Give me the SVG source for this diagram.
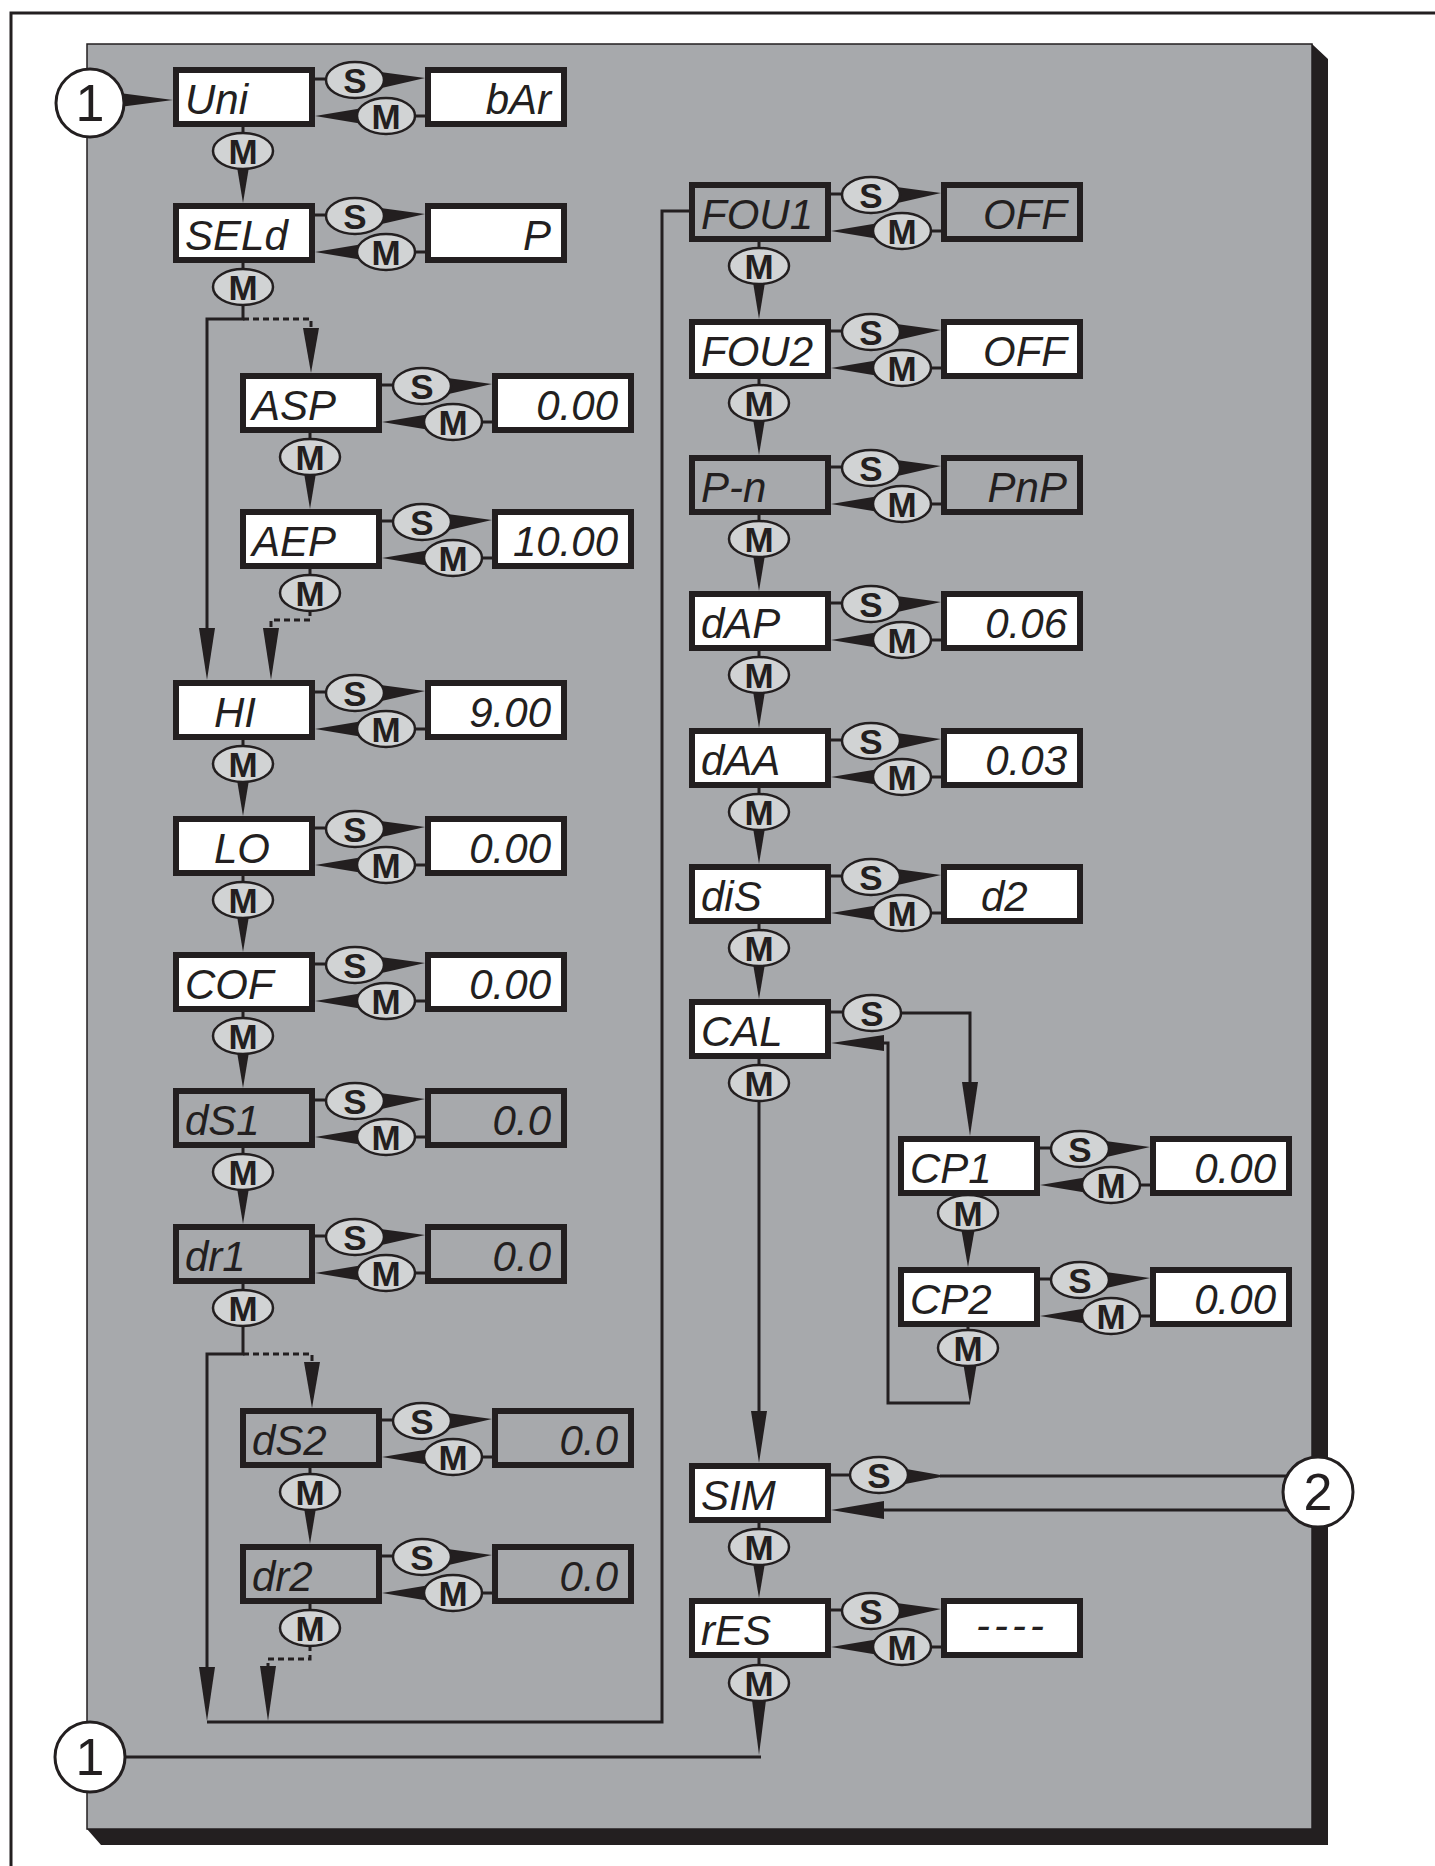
<svg xmlns="http://www.w3.org/2000/svg" width="1435" height="1866" viewBox="0 0 1435 1866">
<style>
.ln{stroke:#231f20;stroke-width:3;fill:none}
.dt{stroke:#231f20;stroke-width:3;fill:none;stroke-dasharray:6 4}
.wd{fill:#231f20}
.bt{fill:#d1d3d4;stroke:#231f20;stroke-width:2.5}
.bl{font-family:"Liberation Sans",Arial,sans-serif;font-weight:bold;font-size:35px;text-anchor:middle;fill:#231f20}
.bx{fill:#fff;stroke:#231f20;stroke-width:6}
.bg{fill:#a7a9ac;stroke:#231f20;stroke-width:6}
.sg{font-family:"Liberation Sans",Arial,sans-serif;font-style:italic;font-size:42px;fill:#231f20}
.sv{font-family:"Liberation Sans",Arial,sans-serif;font-style:italic;font-size:42px;fill:#231f20;text-anchor:end}
.ci{fill:#fff;stroke:#231f20;stroke-width:3}
.cn{font-family:"Liberation Sans",Arial,sans-serif;font-size:52px;text-anchor:middle;fill:#231f20}
</style>
<rect width="1435" height="1866" fill="#fff"/>
<!-- frame -->
<path d="M11 1866V13H1435" fill="none" stroke="#231f20" stroke-width="3"/>
<!-- panel -->
<polygon points="1312,44 1328,59 1328,1845 101,1845 87,1829 1312,1829" fill="#231f20"/>
<rect x="87" y="44" width="1225" height="1785" fill="#a7a9ac" stroke="#231f20" stroke-width="1.5"/>

<g id="connectors">
<!-- row S/M pairs -->
<g transform="translate(173,67)"><path class="ln" d="M142 12H154M243 49H252"/><polygon class="wd" points="200,4 252,11 200,23"/><polygon class="wd" points="142,49 196,40 196,58"/><ellipse class="bt" cx="182" cy="13" rx="29" ry="18"/><text class="bl" x="182" y="25.5">S</text><ellipse class="bt" cx="213" cy="49" rx="29" ry="18"/><text class="bl" x="213" y="61.5">M</text></g>
<g transform="translate(173,203)"><path class="ln" d="M142 12H154M243 49H252"/><polygon class="wd" points="200,4 252,11 200,23"/><polygon class="wd" points="142,49 196,40 196,58"/><ellipse class="bt" cx="182" cy="13" rx="29" ry="18"/><text class="bl" x="182" y="25.5">S</text><ellipse class="bt" cx="213" cy="49" rx="29" ry="18"/><text class="bl" x="213" y="61.5">M</text></g>
<g transform="translate(240,373)"><path class="ln" d="M142 12H154M243 49H252"/><polygon class="wd" points="200,4 252,11 200,23"/><polygon class="wd" points="142,49 196,40 196,58"/><ellipse class="bt" cx="182" cy="13" rx="29" ry="18"/><text class="bl" x="182" y="25.5">S</text><ellipse class="bt" cx="213" cy="49" rx="29" ry="18"/><text class="bl" x="213" y="61.5">M</text></g>
<g transform="translate(240,509)"><path class="ln" d="M142 12H154M243 49H252"/><polygon class="wd" points="200,4 252,11 200,23"/><polygon class="wd" points="142,49 196,40 196,58"/><ellipse class="bt" cx="182" cy="13" rx="29" ry="18"/><text class="bl" x="182" y="25.5">S</text><ellipse class="bt" cx="213" cy="49" rx="29" ry="18"/><text class="bl" x="213" y="61.5">M</text></g>
<g transform="translate(173,680)"><path class="ln" d="M142 12H154M243 49H252"/><polygon class="wd" points="200,4 252,11 200,23"/><polygon class="wd" points="142,49 196,40 196,58"/><ellipse class="bt" cx="182" cy="13" rx="29" ry="18"/><text class="bl" x="182" y="25.5">S</text><ellipse class="bt" cx="213" cy="49" rx="29" ry="18"/><text class="bl" x="213" y="61.5">M</text></g>
<g transform="translate(173,816)"><path class="ln" d="M142 12H154M243 49H252"/><polygon class="wd" points="200,4 252,11 200,23"/><polygon class="wd" points="142,49 196,40 196,58"/><ellipse class="bt" cx="182" cy="13" rx="29" ry="18"/><text class="bl" x="182" y="25.5">S</text><ellipse class="bt" cx="213" cy="49" rx="29" ry="18"/><text class="bl" x="213" y="61.5">M</text></g>
<g transform="translate(173,952)"><path class="ln" d="M142 12H154M243 49H252"/><polygon class="wd" points="200,4 252,11 200,23"/><polygon class="wd" points="142,49 196,40 196,58"/><ellipse class="bt" cx="182" cy="13" rx="29" ry="18"/><text class="bl" x="182" y="25.5">S</text><ellipse class="bt" cx="213" cy="49" rx="29" ry="18"/><text class="bl" x="213" y="61.5">M</text></g>
<g transform="translate(173,1088)"><path class="ln" d="M142 12H154M243 49H252"/><polygon class="wd" points="200,4 252,11 200,23"/><polygon class="wd" points="142,49 196,40 196,58"/><ellipse class="bt" cx="182" cy="13" rx="29" ry="18"/><text class="bl" x="182" y="25.5">S</text><ellipse class="bt" cx="213" cy="49" rx="29" ry="18"/><text class="bl" x="213" y="61.5">M</text></g>
<g transform="translate(173,1224)"><path class="ln" d="M142 12H154M243 49H252"/><polygon class="wd" points="200,4 252,11 200,23"/><polygon class="wd" points="142,49 196,40 196,58"/><ellipse class="bt" cx="182" cy="13" rx="29" ry="18"/><text class="bl" x="182" y="25.5">S</text><ellipse class="bt" cx="213" cy="49" rx="29" ry="18"/><text class="bl" x="213" y="61.5">M</text></g>
<g transform="translate(240,1408)"><path class="ln" d="M142 12H154M243 49H252"/><polygon class="wd" points="200,4 252,11 200,23"/><polygon class="wd" points="142,49 196,40 196,58"/><ellipse class="bt" cx="182" cy="13" rx="29" ry="18"/><text class="bl" x="182" y="25.5">S</text><ellipse class="bt" cx="213" cy="49" rx="29" ry="18"/><text class="bl" x="213" y="61.5">M</text></g>
<g transform="translate(240,1544)"><path class="ln" d="M142 12H154M243 49H252"/><polygon class="wd" points="200,4 252,11 200,23"/><polygon class="wd" points="142,49 196,40 196,58"/><ellipse class="bt" cx="182" cy="13" rx="29" ry="18"/><text class="bl" x="182" y="25.5">S</text><ellipse class="bt" cx="213" cy="49" rx="29" ry="18"/><text class="bl" x="213" y="61.5">M</text></g>
<g transform="translate(689,182)"><path class="ln" d="M142 12H154M243 49H252"/><polygon class="wd" points="200,4 252,11 200,23"/><polygon class="wd" points="142,49 196,40 196,58"/><ellipse class="bt" cx="182" cy="13" rx="29" ry="18"/><text class="bl" x="182" y="25.5">S</text><ellipse class="bt" cx="213" cy="49" rx="29" ry="18"/><text class="bl" x="213" y="61.5">M</text></g>
<g transform="translate(689,319)"><path class="ln" d="M142 12H154M243 49H252"/><polygon class="wd" points="200,4 252,11 200,23"/><polygon class="wd" points="142,49 196,40 196,58"/><ellipse class="bt" cx="182" cy="13" rx="29" ry="18"/><text class="bl" x="182" y="25.5">S</text><ellipse class="bt" cx="213" cy="49" rx="29" ry="18"/><text class="bl" x="213" y="61.5">M</text></g>
<g transform="translate(689,455)"><path class="ln" d="M142 12H154M243 49H252"/><polygon class="wd" points="200,4 252,11 200,23"/><polygon class="wd" points="142,49 196,40 196,58"/><ellipse class="bt" cx="182" cy="13" rx="29" ry="18"/><text class="bl" x="182" y="25.5">S</text><ellipse class="bt" cx="213" cy="49" rx="29" ry="18"/><text class="bl" x="213" y="61.5">M</text></g>
<g transform="translate(689,591)"><path class="ln" d="M142 12H154M243 49H252"/><polygon class="wd" points="200,4 252,11 200,23"/><polygon class="wd" points="142,49 196,40 196,58"/><ellipse class="bt" cx="182" cy="13" rx="29" ry="18"/><text class="bl" x="182" y="25.5">S</text><ellipse class="bt" cx="213" cy="49" rx="29" ry="18"/><text class="bl" x="213" y="61.5">M</text></g>
<g transform="translate(689,728)"><path class="ln" d="M142 12H154M243 49H252"/><polygon class="wd" points="200,4 252,11 200,23"/><polygon class="wd" points="142,49 196,40 196,58"/><ellipse class="bt" cx="182" cy="13" rx="29" ry="18"/><text class="bl" x="182" y="25.5">S</text><ellipse class="bt" cx="213" cy="49" rx="29" ry="18"/><text class="bl" x="213" y="61.5">M</text></g>
<g transform="translate(689,864)"><path class="ln" d="M142 12H154M243 49H252"/><polygon class="wd" points="200,4 252,11 200,23"/><polygon class="wd" points="142,49 196,40 196,58"/><ellipse class="bt" cx="182" cy="13" rx="29" ry="18"/><text class="bl" x="182" y="25.5">S</text><ellipse class="bt" cx="213" cy="49" rx="29" ry="18"/><text class="bl" x="213" y="61.5">M</text></g>
<g transform="translate(898,1136)"><path class="ln" d="M142 12H154M243 49H252"/><polygon class="wd" points="200,4 252,11 200,23"/><polygon class="wd" points="142,49 196,40 196,58"/><ellipse class="bt" cx="182" cy="13" rx="29" ry="18"/><text class="bl" x="182" y="25.5">S</text><ellipse class="bt" cx="213" cy="49" rx="29" ry="18"/><text class="bl" x="213" y="61.5">M</text></g>
<g transform="translate(898,1267)"><path class="ln" d="M142 12H154M243 49H252"/><polygon class="wd" points="200,4 252,11 200,23"/><polygon class="wd" points="142,49 196,40 196,58"/><ellipse class="bt" cx="182" cy="13" rx="29" ry="18"/><text class="bl" x="182" y="25.5">S</text><ellipse class="bt" cx="213" cy="49" rx="29" ry="18"/><text class="bl" x="213" y="61.5">M</text></g>
<g transform="translate(689,1598)"><path class="ln" d="M142 12H154M243 49H252"/><polygon class="wd" points="200,4 252,11 200,23"/><polygon class="wd" points="142,49 196,40 196,58"/><ellipse class="bt" cx="182" cy="13" rx="29" ry="18"/><text class="bl" x="182" y="25.5">S</text><ellipse class="bt" cx="213" cy="49" rx="29" ry="18"/><text class="bl" x="213" y="61.5">M</text></g>

<!-- standard vertical M steps -->
<g transform="translate(173,67)"><path class="ln" d="M70 60V68"/><polygon class="wd" points="62,88 78,88 70,136"/><ellipse class="bt" cx="70" cy="84" rx="30" ry="18"/><text class="bl" x="70" y="96.5">M</text></g>
<g transform="translate(240,373)"><path class="ln" d="M70 60V68"/><polygon class="wd" points="62,88 78,88 70,136"/><ellipse class="bt" cx="70" cy="84" rx="30" ry="18"/><text class="bl" x="70" y="96.5">M</text></g>
<g transform="translate(173,680)"><path class="ln" d="M70 60V68"/><polygon class="wd" points="62,88 78,88 70,136"/><ellipse class="bt" cx="70" cy="84" rx="30" ry="18"/><text class="bl" x="70" y="96.5">M</text></g>
<g transform="translate(173,816)"><path class="ln" d="M70 60V68"/><polygon class="wd" points="62,88 78,88 70,136"/><ellipse class="bt" cx="70" cy="84" rx="30" ry="18"/><text class="bl" x="70" y="96.5">M</text></g>
<g transform="translate(173,952)"><path class="ln" d="M70 60V68"/><polygon class="wd" points="62,88 78,88 70,136"/><ellipse class="bt" cx="70" cy="84" rx="30" ry="18"/><text class="bl" x="70" y="96.5">M</text></g>
<g transform="translate(173,1088)"><path class="ln" d="M70 60V68"/><polygon class="wd" points="62,88 78,88 70,136"/><ellipse class="bt" cx="70" cy="84" rx="30" ry="18"/><text class="bl" x="70" y="96.5">M</text></g>
<g transform="translate(240,1408)"><path class="ln" d="M70 60V68"/><polygon class="wd" points="62,88 78,88 70,136"/><ellipse class="bt" cx="70" cy="84" rx="30" ry="18"/><text class="bl" x="70" y="96.5">M</text></g>
<g transform="translate(689,182)"><path class="ln" d="M70 60V68"/><polygon class="wd" points="62,88 78,88 70,137"/><ellipse class="bt" cx="70" cy="84" rx="30" ry="18"/><text class="bl" x="70" y="96.5">M</text></g>
<g transform="translate(689,319)"><path class="ln" d="M70 60V68"/><polygon class="wd" points="62,88 78,88 70,136"/><ellipse class="bt" cx="70" cy="84" rx="30" ry="18"/><text class="bl" x="70" y="96.5">M</text></g>
<g transform="translate(689,455)"><path class="ln" d="M70 60V68"/><polygon class="wd" points="62,88 78,88 70,136"/><ellipse class="bt" cx="70" cy="84" rx="30" ry="18"/><text class="bl" x="70" y="96.5">M</text></g>
<g transform="translate(689,591)"><path class="ln" d="M70 60V68"/><polygon class="wd" points="62,88 78,88 70,137"/><ellipse class="bt" cx="70" cy="84" rx="30" ry="18"/><text class="bl" x="70" y="96.5">M</text></g>
<g transform="translate(689,728)"><path class="ln" d="M70 60V68"/><polygon class="wd" points="62,88 78,88 70,136"/><ellipse class="bt" cx="70" cy="84" rx="30" ry="18"/><text class="bl" x="70" y="96.5">M</text></g>
<g transform="translate(689,864)"><path class="ln" d="M70 60V68"/><polygon class="wd" points="62,88 78,88 70,135"/><ellipse class="bt" cx="70" cy="84" rx="30" ry="18"/><text class="bl" x="70" y="96.5">M</text></g>
<g transform="translate(689,1463)"><path class="ln" d="M70 60V68"/><polygon class="wd" points="62,88 78,88 70,135"/><ellipse class="bt" cx="70" cy="84" rx="30" ry="18"/><text class="bl" x="70" y="96.5">M</text></g>

<!-- SELd branch -->
<path class="ln" d="M243 263V270M243 304V319H207V632"/>
<polygon class="wd" points="199,628 215,628 207,680"/>
<path class="dt" d="M243 319H311V330"/>
<polygon class="wd" points="303,328 319,328 311,373"/>
<ellipse class="bt" cx="243" cy="287" rx="30" ry="18"/><text class="bl" x="243" y="299.5">M</text>
<!-- AEP dotted -->
<path class="ln" d="M310 569V576"/>
<path class="dt" d="M310 610V620H271V630"/>
<polygon class="wd" points="263,628 279,628 271,680"/>
<ellipse class="bt" cx="310" cy="593" rx="30" ry="18"/><text class="bl" x="310" y="605.5">M</text>
<!-- dr1 branch -->
<path class="ln" d="M243 1284V1291M243 1325V1354H207V1670"/>
<polygon class="wd" points="199,1667 215,1667 207,1721"/>
<path class="dt" d="M243 1354H312V1364"/>
<polygon class="wd" points="304,1362 320,1362 312,1408"/>
<ellipse class="bt" cx="243" cy="1308" rx="30" ry="18"/><text class="bl" x="243" y="1320.5">M</text>
<!-- dr2 dotted -->
<path class="ln" d="M310 1604V1611"/>
<path class="dt" d="M310 1645V1659H268V1668"/>
<polygon class="wd" points="260,1666 276,1666 268,1721"/>
<ellipse class="bt" cx="310" cy="1628" rx="30" ry="18"/><text class="bl" x="310" y="1640.5">M</text>
<!-- bottom loop to FOU1 -->
<path class="ln" d="M207 1722H662V211H689"/>
<!-- circle 1 top -->
<polygon class="wd" points="112,92 173,100 112,108"/>
<!-- circle 1 bottom line and rES down -->
<path class="ln" d="M759 1658V1666M110 1757H761"/>
<polygon class="wd" points="751,1692 767,1692 759,1755"/>
<ellipse class="bt" cx="759" cy="1683" rx="30" ry="18"/><text class="bl" x="759" y="1695.5">M</text>
<!-- CAL -->
<path class="ln" d="M831 1012H844M901 1013H970V1090"/>
<polygon class="wd" points="962,1082 978,1082 970,1136"/>
<ellipse class="bt" cx="872" cy="1013" rx="29" ry="18"/><text class="bl" x="872" y="1025.5">S</text>
<polygon class="wd" points="831,1043 884,1035 884,1051"/>
<path class="ln" d="M882 1043H888V1403H970"/>
<path class="ln" d="M759 1059V1066M759 1100V1420"/>
<polygon class="wd" points="751,1411 767,1411 759,1463"/>
<ellipse class="bt" cx="759" cy="1083" rx="30" ry="18"/><text class="bl" x="759" y="1095.5">M</text>
<!-- CP1 -> CP2, CP2 -> back -->
<polygon class="wd" points="960,1222 976,1222 968,1267"/>
<ellipse class="bt" cx="968" cy="1213" rx="30" ry="18"/><text class="bl" x="968" y="1225.5">M</text>
<path class="ln" d="M968 1327V1332"/>
<polygon class="wd" points="962,1356 978,1356 970,1404"/>
<ellipse class="bt" cx="968" cy="1348" rx="30" ry="18"/><text class="bl" x="968" y="1360.5">M</text>
<!-- SIM -->
<path class="ln" d="M831 1475H851M940 1476H1290M882 1510H1290"/>
<polygon class="wd" points="895,1467 946,1476 895,1486"/>
<ellipse class="bt" cx="879" cy="1475" rx="29" ry="18"/><text class="bl" x="879" y="1487.5">S</text>
<polygon class="wd" points="831,1510 884,1501 884,1519"/>
</g>

<!-- reference circles -->
<g id="ref-1-top"><circle class="ci" cx="90" cy="103" r="34"/><text class="cn" x="90" y="121">1</text></g>
<g id="ref-1-bottom"><circle class="ci" cx="90" cy="1757" r="35"/><text class="cn" x="90" y="1775">1</text></g>
<g id="ref-2"><circle class="ci" cx="1318" cy="1492" r="35"/><text class="cn" x="1318" y="1510">2</text></g>

<!-- parameter nodes -->
<g id="n-uni"><rect class="bx" x="176" y="70" width="136" height="54"/><text class="sg" x="185" y="114">Uni</text></g>
<g id="v-uni"><rect class="bx" x="428" y="70" width="136" height="54"/><text class="sv" x="551" y="114">bAr</text></g>
<g id="n-seld"><rect class="bx" x="176" y="206" width="136" height="54"/><text class="sg" x="185" y="250">SELd</text></g>
<g id="v-seld"><rect class="bx" x="428" y="206" width="136" height="54"/><text class="sv" x="551" y="250">P</text></g>
<g id="n-asp"><rect class="bx" x="243" y="376" width="136" height="54"/><text class="sg" x="252" y="420">ASP</text></g>
<g id="v-asp"><rect class="bx" x="495" y="376" width="136" height="54"/><text class="sv" x="618" y="420">0.00</text></g>
<g id="n-aep"><rect class="bx" x="243" y="512" width="136" height="54"/><text class="sg" x="252" y="556">AEP</text></g>
<g id="v-aep"><rect class="bx" x="495" y="512" width="136" height="54"/><text class="sv" x="618" y="556">10.00</text></g>
<g id="n-hi"><rect class="bx" x="176" y="683" width="136" height="54"/><text class="sg" x="214" y="727">HI</text></g>
<g id="v-hi"><rect class="bx" x="428" y="683" width="136" height="54"/><text class="sv" x="551" y="727">9.00</text></g>
<g id="n-lo"><rect class="bx" x="176" y="819" width="136" height="54"/><text class="sg" x="214" y="863">LO</text></g>
<g id="v-lo"><rect class="bx" x="428" y="819" width="136" height="54"/><text class="sv" x="551" y="863">0.00</text></g>
<g id="n-cof"><rect class="bx" x="176" y="955" width="136" height="54"/><text class="sg" x="185" y="999">COF</text></g>
<g id="v-cof"><rect class="bx" x="428" y="955" width="136" height="54"/><text class="sv" x="551" y="999">0.00</text></g>
<g id="n-ds1"><rect class="bg" x="176" y="1091" width="136" height="54"/><text class="sg" x="185" y="1135">dS1</text></g>
<g id="v-ds1"><rect class="bg" x="428" y="1091" width="136" height="54"/><text class="sv" x="551" y="1135">0.0</text></g>
<g id="n-dr1"><rect class="bg" x="176" y="1227" width="136" height="54"/><text class="sg" x="185" y="1271">dr1</text></g>
<g id="v-dr1"><rect class="bg" x="428" y="1227" width="136" height="54"/><text class="sv" x="551" y="1271">0.0</text></g>
<g id="n-ds2"><rect class="bg" x="243" y="1411" width="136" height="54"/><text class="sg" x="252" y="1455">dS2</text></g>
<g id="v-ds2"><rect class="bg" x="495" y="1411" width="136" height="54"/><text class="sv" x="618" y="1455">0.0</text></g>
<g id="n-dr2"><rect class="bg" x="243" y="1547" width="136" height="54"/><text class="sg" x="252" y="1591">dr2</text></g>
<g id="v-dr2"><rect class="bg" x="495" y="1547" width="136" height="54"/><text class="sv" x="618" y="1591">0.0</text></g>
<g id="n-fou1"><rect class="bg" x="692" y="185" width="136" height="54"/><text class="sg" x="701" y="229">FOU1</text></g>
<g id="v-fou1"><rect class="bg" x="944" y="185" width="136" height="54"/><text class="sv" x="1067" y="229">OFF</text></g>
<g id="n-fou2"><rect class="bx" x="692" y="322" width="136" height="54"/><text class="sg" x="701" y="366">FOU2</text></g>
<g id="v-fou2"><rect class="bx" x="944" y="322" width="136" height="54"/><text class="sv" x="1067" y="366">OFF</text></g>
<g id="n-pn"><rect class="bg" x="692" y="458" width="136" height="54"/><text class="sg" x="701" y="502">P-n</text></g>
<g id="v-pn"><rect class="bg" x="944" y="458" width="136" height="54"/><text class="sv" x="1067" y="502">PnP</text></g>
<g id="n-dap"><rect class="bx" x="692" y="594" width="136" height="54"/><text class="sg" x="701" y="638">dAP</text></g>
<g id="v-dap"><rect class="bx" x="944" y="594" width="136" height="54"/><text class="sv" x="1067" y="638">0.06</text></g>
<g id="n-daa"><rect class="bx" x="692" y="731" width="136" height="54"/><text class="sg" x="701" y="775">dAA</text></g>
<g id="v-daa"><rect class="bx" x="944" y="731" width="136" height="54"/><text class="sv" x="1067" y="775">0.03</text></g>
<g id="n-dis"><rect class="bx" x="692" y="867" width="136" height="54"/><text class="sg" x="701" y="911">diS</text></g>
<g id="v-dis"><rect class="bx" x="944" y="867" width="136" height="54"/><text class="sg" x="981" y="911">d2</text></g>
<g id="n-cal"><rect class="bx" x="692" y="1002" width="136" height="54"/><text class="sg" x="701" y="1046">CAL</text></g>
<g id="n-cp1"><rect class="bx" x="901" y="1139" width="136" height="54"/><text class="sg" x="910" y="1183">CP1</text></g>
<g id="v-cp1"><rect class="bx" x="1153" y="1139" width="136" height="54"/><text class="sv" x="1276" y="1183">0.00</text></g>
<g id="n-cp2"><rect class="bx" x="901" y="1270" width="136" height="54"/><text class="sg" x="910" y="1314">CP2</text></g>
<g id="v-cp2"><rect class="bx" x="1153" y="1270" width="136" height="54"/><text class="sv" x="1276" y="1314">0.00</text></g>
<g id="n-sim"><rect class="bx" x="692" y="1466" width="136" height="54"/><text class="sg" x="701" y="1510">SIM</text></g>
<g id="n-res"><rect class="bx" x="692" y="1601" width="136" height="54"/><text class="sg" x="701" y="1645">rES</text></g>
<g id="v-res"><rect class="bx" x="944" y="1601" width="136" height="54"/><text class="sg" x="1012" y="1640" text-anchor="middle" letter-spacing="4">----</text></g>
</svg>
